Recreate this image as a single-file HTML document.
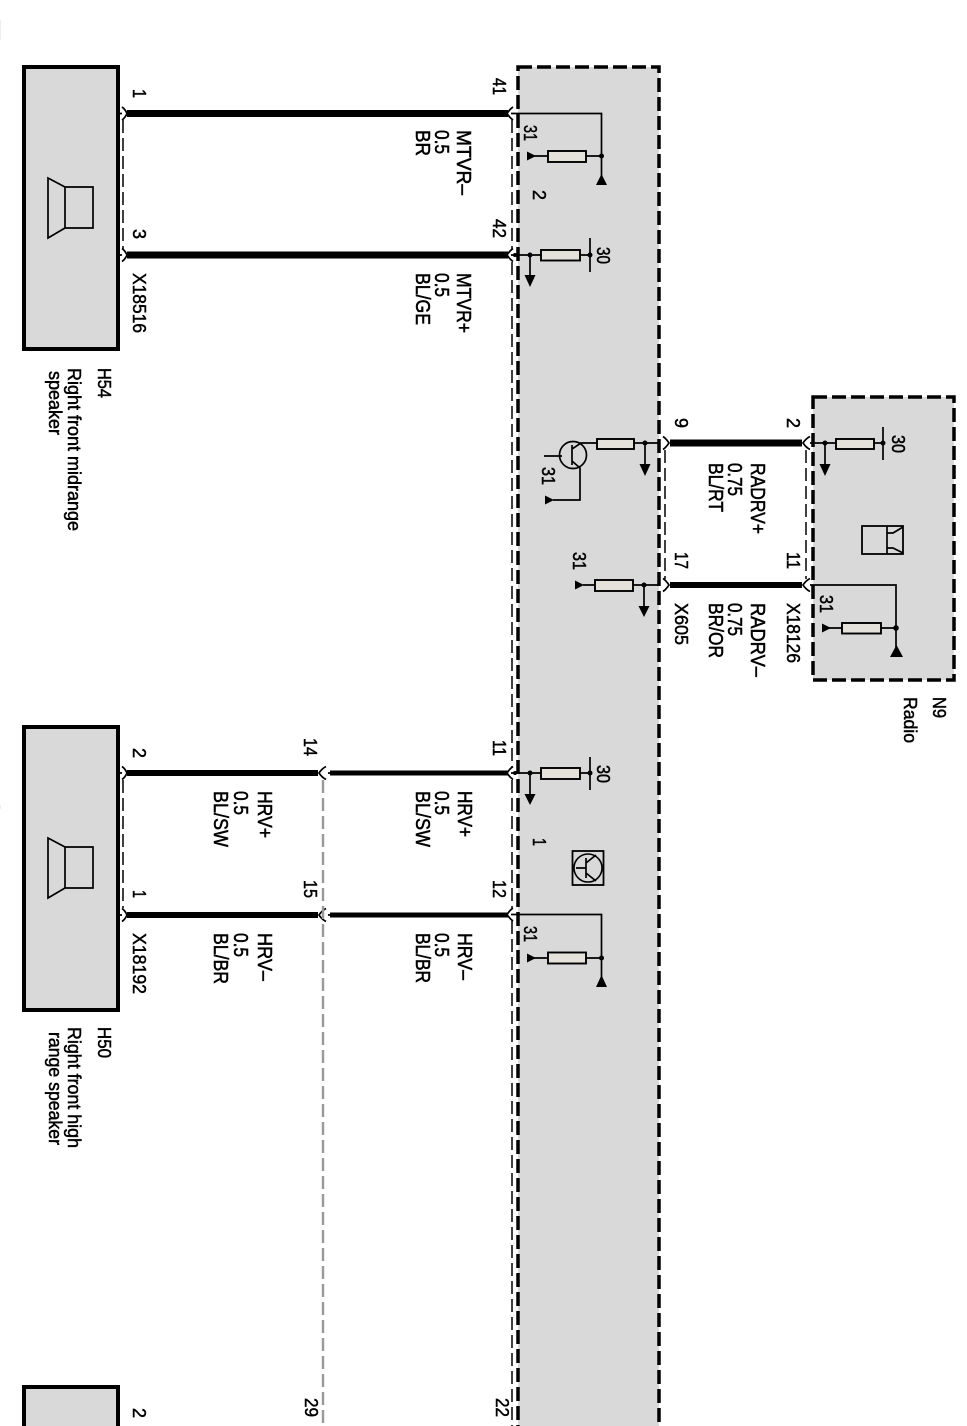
<!DOCTYPE html>
<html><head><meta charset="utf-8"><style>
html,body{margin:0;padding:0;background:#fff;width:967px;height:1426px;overflow:hidden}
svg{display:block;position:absolute;left:0;top:0;filter:blur(.35px)}
text{font-family:"Liberation Sans",sans-serif;font-size:17px;fill:#000;stroke:#000;stroke-width:.45}
.t{fill:none;stroke:#000;stroke-width:1.7}
.w{fill:none;stroke:#000}
.d{fill:none;stroke:#000;stroke-width:1.5;stroke-dasharray:13 5}
.r{fill:#e4e2da;stroke:#000;stroke-width:1.9}
.k{fill:#000;stroke:none}
</style></head><body>
<svg width="967" height="1426" viewBox="0 0 967 1426" xmlns="http://www.w3.org/2000/svg">
<rect x="24" y="67" width="94" height="282" fill="#d9d9d9" stroke="#000" stroke-width="4"/>
<rect x="24" y="727" width="94" height="283" fill="#d9d9d9" stroke="#000" stroke-width="4"/>
<rect x="24" y="1387" width="94" height="60" fill="#d9d9d9" stroke="#000" stroke-width="4"/>
<rect x="518" y="67" width="141" height="1400" fill="#d9d9d9" stroke="#000" stroke-width="3.5" stroke-dasharray="14 5"/>
<rect x="813" y="397" width="141" height="283" fill="#d9d9d9" stroke="#000" stroke-width="3.5" stroke-dasharray="14 5"/>

<!-- speakers -->
<path class="t" d="M48,178 L65,187 V228 L48,238 Z M65,187 H93 V228 H65"/>
<path class="t" d="M48,838 L65,847 V888 L48,898 Z M65,847 H93 V888 H65"/>

<!-- main wires -->
<g class="w">
<path stroke-width="7" d="M127,113.5 H508 M127,255 H508 M670,443 H802"/>
<path stroke-width="6" d="M670,585 H802 M127,773 H318 M127,915 H318"/>
<path stroke-width="5" d="M330,773 H508 M330,915 H508"/>
</g>

<!-- brackets -->
<path class="t" d="M119,113.5 H122 M122,107 Q125,109 127,113.5 Q125,118 122,120 M119,255 H122 M122,248.5 Q125,250.5 127,255 Q125,259.5 122,261.5 M119,773 H122 M122,766.5 Q125,768.5 127,773 Q125,777.5 122,779.5 M119,915 H122 M122,908.5 Q125,910.5 127,915 Q125,919.500 122,921.5"/>
<path class="t" d="M513,107 Q510,109 507,113.5 Q510,118 513,120 M513,248.5 Q510,250.5 507,255 Q510,259.500 513,261.5 M513,766.5 Q510,768.5 507,773 Q510,777.5 513,779.500 M513,908 Q510,910 507,914.5 Q510,919 513,921"/>
<path class="t" d="M663,436.5 Q666,438.500 669,443 Q666,447.500 663,449.5 M663,578.5 Q666,580.500 669,585 Q666,589.500 663,591.5"/>
<path class="t" d="M810,436.5 Q806,438.500 803,443 Q806,447.500 810,449.5 M810,578.5 Q806,580.500 803,585 Q806,589.500 810,591.5"/>
<path class="t" d="M326,766.5 Q322,768.500 319,773 Q322,777.500 326,779.5 M326,908.5 Q322,910.500 319,915 Q322,919.500 326,921.5"/>
<path class="t" d="M328,773 H332 M328,915 H332"/>

<!-- dashed shields -->
<path class="d" d="M123,120 V249 M123,780 V908"/>
<path class="d" d="M512,120 V249 M512,262 V767 M512,780 V908 M512,921 V1426"/>
<path class="d" d="M665,450 V579 M806,450 V579"/>
<path d="M323,780 V1426" fill="none" stroke="#999" stroke-width="2.4" stroke-dasharray="13 5"/>

<!-- 41 -->
<path class="t" d="M511,113.5 H601.5 V178 M601.5,156 H586 M548,156 H533"/>
<rect class="r" x="548" y="151" width="38" height="11"/>
<circle class="k" cx="601.5" cy="156" r="2.5"/>
<path class="k" d="M601.5,174 L607,185 H596 Z M536,156 L527,151.500 V160.500 Z"/>
<!-- 42 -->
<path class="t" d="M511,255 H541 M580,255 H590 M590,238 V272 M530,255 V280"/>
<rect class="r" x="541" y="250" width="39" height="10.5"/>
<circle class="k" cx="530" cy="255" r="2.5"/><circle class="k" cx="590" cy="255" r="2.5"/><circle class="k" cx="515" cy="255" r="2"/>
<path class="k" d="M530,287 L524.5,275 H535.5 Z"/>
<!-- 11 -->
<path class="t" d="M511,773 H541 M580,773 H590 M590,757 V790 M530,773 V798"/>
<rect class="r" x="541" y="768" width="39" height="11"/>
<circle class="k" cx="530" cy="773" r="2.5"/><circle class="k" cx="590" cy="773" r="2.5"/><circle class="k" cx="515" cy="773" r="2"/>
<path class="k" d="M530,805 L524.5,794 H535.5 Z"/>
<!-- transistor icon -->
<rect x="572.5" y="851" width="31" height="34" fill="none" stroke="#000" stroke-width="1.8"/>
<circle cx="588" cy="868" r="14" fill="none" stroke="#000" stroke-width="1.6"/>
<path class="t" d="M576,868 H586 M586,858 V878 M586,863 L596,855 M586,873 L596,881"/>
<!-- 12 -->
<path class="t" d="M511,914.5 H601.5 V980 M601.5,958 H586 M548,958 H533"/>
<rect class="r" x="548" y="952.5" width="38" height="11"/>
<circle class="k" cx="601.5" cy="958" r="2.5"/>
<path class="k" d="M601.5,975 L607,987 H596 Z M536,958 L527,953.500 V962.500 Z"/>

<!-- transistor at 9 -->
<path class="t" d="M659,443 H634 M597,443 H580 M645,443 V468 M544,456 H562 M572,445 V465 M572,449 L581,443 M572,461 L580,468 V500 H553"/>
<circle cx="573" cy="455" r="13.5" fill="none" stroke="#000" stroke-width="1.7"/>
<rect class="r" x="597" y="439" width="37" height="10"/>
<circle class="k" cx="645" cy="443" r="2.5"/>
<path class="k" d="M645,476 L639.5,464 H650.5 Z M554,500 L545,495.500 V504.500 Z"/>
<!-- 17 -->
<path class="t" d="M659,585 H633 M595,585 H583 M644,585 V610"/>
<rect class="r" x="595" y="580" width="38" height="11"/>
<circle class="k" cx="644" cy="585" r="2.5"/>
<path class="k" d="M644,617 L638.5,606 H649.5 Z M584,585 L575,580.500 V589.500 Z"/>

<!-- radio internals -->
<path class="t" d="M810,443 H836 M874,443 H883 M883,427 V460 M825,443 V468"/>
<rect class="r" x="836" y="439" width="38" height="10"/>
<circle class="k" cx="825" cy="443" r="2.5"/><circle class="k" cx="883" cy="443" r="2.5"/>
<path class="k" d="M825,476 L819.5,464 H830.5 Z"/>
<rect x="862" y="526" width="41" height="28" fill="none" stroke="#000" stroke-width="1.8"/>
<path class="t" d="M887,526 V554 M887,533 H893 L903,527 M887,548 H893 L903,553"/>
<path class="t" d="M810,585 H896 V650 M896,628 H881 M842,628 H829"/>
<rect class="r" x="842" y="623" width="39" height="10.5"/>
<circle class="k" cx="896" cy="628" r="2.8"/>
<path class="k" d="M896.5,645 L903,657 H890 Z M831,628 L822,623.500 V632.500 Z"/>

<!-- left-edge ticks -->
<path d="M0,805 V809 M0,20 V40" stroke="#ddd" stroke-width="1"/>

<!-- labels -->
<g>
<text lengthAdjust="spacingAndGlyphs" transform="translate(133,89) rotate(90) scale(1,1.1)" textLength="9">1</text>
<text lengthAdjust="spacingAndGlyphs" transform="translate(133,229) rotate(90) scale(1,1.1)" textLength="10">3</text>
<text lengthAdjust="spacingAndGlyphs" transform="translate(133,273) rotate(90) scale(1,1.1)" textLength="60">X18516</text>
<text lengthAdjust="spacingAndGlyphs" transform="translate(98,368) rotate(90) scale(1,1.1)" textLength="30">H54</text>
<text lengthAdjust="spacingAndGlyphs" transform="translate(68,368) rotate(90) scale(1,1.1)" textLength="163">Right front midrange</text>
<text lengthAdjust="spacingAndGlyphs" transform="translate(49,371) rotate(90) scale(1,1.1)" textLength="64">speaker</text>

<text lengthAdjust="spacingAndGlyphs" transform="translate(493,78) rotate(90) scale(1,1.1)" textLength="17">41</text>
<text lengthAdjust="spacingAndGlyphs" transform="translate(493,219) rotate(90) scale(1,1.1)" textLength="19">42</text>
<text lengthAdjust="spacingAndGlyphs" transform="translate(457,130) rotate(90) scale(1,1.18)" textLength="65">MTVR–</text>
<text lengthAdjust="spacingAndGlyphs" transform="translate(435,130) rotate(90) scale(1,1.18)" textLength="24">0.5</text>
<text lengthAdjust="spacingAndGlyphs" transform="translate(416,130) rotate(90) scale(1,1.18)" textLength="26">BR</text>
<text lengthAdjust="spacingAndGlyphs" transform="translate(457,273) rotate(90) scale(1,1.18)" textLength="60">MTVR+</text>
<text lengthAdjust="spacingAndGlyphs" transform="translate(435,273) rotate(90) scale(1,1.18)" textLength="24">0.5</text>
<text lengthAdjust="spacingAndGlyphs" transform="translate(416,273) rotate(90) scale(1,1.18)" textLength="52">BL/GE</text>
<text lengthAdjust="spacingAndGlyphs" transform="translate(524,125) rotate(90) scale(1,1.1)" textLength="16">31</text>
<text lengthAdjust="spacingAndGlyphs" transform="translate(533,190) rotate(90) scale(1,1.1)" textLength="10">2</text>
<text lengthAdjust="spacingAndGlyphs" transform="translate(597,247) rotate(90) scale(1,1.1)" textLength="17">30</text>

<text lengthAdjust="spacingAndGlyphs" transform="translate(675,418) rotate(90) scale(1,1.1)" textLength="10">9</text>
<text lengthAdjust="spacingAndGlyphs" transform="translate(787,418) rotate(90) scale(1,1.1)" textLength="10">2</text>
<text lengthAdjust="spacingAndGlyphs" transform="translate(675,552) rotate(90) scale(1,1.1)" textLength="17">17</text>
<text lengthAdjust="spacingAndGlyphs" transform="translate(787,552) rotate(90) scale(1,1.1)" textLength="17">11</text>
<text lengthAdjust="spacingAndGlyphs" transform="translate(751,463) rotate(90) scale(1,1.18)" textLength="71">RADRV+</text>
<text lengthAdjust="spacingAndGlyphs" transform="translate(728,463) rotate(90) scale(1,1.18)" textLength="33">0.75</text>
<text lengthAdjust="spacingAndGlyphs" transform="translate(709,463) rotate(90) scale(1,1.18)" textLength="49">BL/RT</text>
<text lengthAdjust="spacingAndGlyphs" transform="translate(751,603) rotate(90) scale(1,1.18)" textLength="74">RADRV–</text>
<text lengthAdjust="spacingAndGlyphs" transform="translate(728,603) rotate(90) scale(1,1.18)" textLength="33">0.75</text>
<text lengthAdjust="spacingAndGlyphs" transform="translate(709,603) rotate(90) scale(1,1.18)" textLength="55">BR/OR</text>
<text lengthAdjust="spacingAndGlyphs" transform="translate(675,603) rotate(90) scale(1,1.1)" textLength="42">X605</text>
<text lengthAdjust="spacingAndGlyphs" transform="translate(787,603) rotate(90) scale(1,1.1)" textLength="60">X18126</text>
<text lengthAdjust="spacingAndGlyphs" transform="translate(933,697) rotate(90) scale(1,1.1)" textLength="21">N9</text>
<text lengthAdjust="spacingAndGlyphs" transform="translate(904,697) rotate(90) scale(1,1.1)" textLength="46">Radio</text>
<text lengthAdjust="spacingAndGlyphs" transform="translate(892,435) rotate(90) scale(1,1.1)" textLength="18">30</text>
<text lengthAdjust="spacingAndGlyphs" transform="translate(820,595) rotate(90) scale(1,1.1)" textLength="18">31</text>
<text lengthAdjust="spacingAndGlyphs" transform="translate(542,467) rotate(90) scale(1,1.1)" textLength="18">31</text>
<text lengthAdjust="spacingAndGlyphs" transform="translate(573,552) rotate(90) scale(1,1.1)" textLength="18">31</text>

<text lengthAdjust="spacingAndGlyphs" transform="translate(493,740) rotate(90) scale(1,1.1)" textLength="16">11</text>
<text lengthAdjust="spacingAndGlyphs" transform="translate(493,880) rotate(90) scale(1,1.1)" textLength="18">12</text>
<text lengthAdjust="spacingAndGlyphs" transform="translate(458,791) rotate(90) scale(1,1.18)" textLength="46">HRV+</text>
<text lengthAdjust="spacingAndGlyphs" transform="translate(435,791) rotate(90) scale(1,1.18)" textLength="24">0.5</text>
<text lengthAdjust="spacingAndGlyphs" transform="translate(416,791) rotate(90) scale(1,1.18)" textLength="56">BL/SW</text>
<text lengthAdjust="spacingAndGlyphs" transform="translate(458,933) rotate(90) scale(1,1.18)" textLength="47">HRV–</text>
<text lengthAdjust="spacingAndGlyphs" transform="translate(435,933) rotate(90) scale(1,1.18)" textLength="24">0.5</text>
<text lengthAdjust="spacingAndGlyphs" transform="translate(416,933) rotate(90) scale(1,1.18)" textLength="50">BL/BR</text>
<text lengthAdjust="spacingAndGlyphs" transform="translate(597,765) rotate(90) scale(1,1.1)" textLength="18">30</text>
<text lengthAdjust="spacingAndGlyphs" transform="translate(533,838) rotate(90) scale(1,1.1)" textLength="8">1</text>
<text lengthAdjust="spacingAndGlyphs" transform="translate(524,926) rotate(90) scale(1,1.1)" textLength="16">31</text>

<text lengthAdjust="spacingAndGlyphs" transform="translate(133,748) rotate(90) scale(1,1.1)" textLength="10">2</text>
<text lengthAdjust="spacingAndGlyphs" transform="translate(133,890) rotate(90) scale(1,1.1)" textLength="8">1</text>
<text lengthAdjust="spacingAndGlyphs" transform="translate(133,933) rotate(90) scale(1,1.1)" textLength="61">X18192</text>
<text lengthAdjust="spacingAndGlyphs" transform="translate(304,738) rotate(90) scale(1,1.1)" textLength="18">14</text>
<text lengthAdjust="spacingAndGlyphs" transform="translate(304,880) rotate(90) scale(1,1.1)" textLength="18">15</text>
<text lengthAdjust="spacingAndGlyphs" transform="translate(258,791) rotate(90) scale(1,1.18)" textLength="47">HRV+</text>
<text lengthAdjust="spacingAndGlyphs" transform="translate(234,791) rotate(90) scale(1,1.18)" textLength="24">0.5</text>
<text lengthAdjust="spacingAndGlyphs" transform="translate(214,791) rotate(90) scale(1,1.18)" textLength="56">BL/SW</text>
<text lengthAdjust="spacingAndGlyphs" transform="translate(258,933) rotate(90) scale(1,1.18)" textLength="48">HRV–</text>
<text lengthAdjust="spacingAndGlyphs" transform="translate(234,933) rotate(90) scale(1,1.18)" textLength="24">0.5</text>
<text lengthAdjust="spacingAndGlyphs" transform="translate(214,933) rotate(90) scale(1,1.18)" textLength="51">BL/BR</text>
<text lengthAdjust="spacingAndGlyphs" transform="translate(98,1027) rotate(90) scale(1,1.1)" textLength="31">H50</text>
<text lengthAdjust="spacingAndGlyphs" transform="translate(68,1027) rotate(90) scale(1,1.1)" textLength="121">Right front high</text>
<text lengthAdjust="spacingAndGlyphs" transform="translate(49,1032) rotate(90) scale(1,1.1)" textLength="113">range speaker</text>

<text lengthAdjust="spacingAndGlyphs" transform="translate(133,1408) rotate(90) scale(1,1.1)" textLength="10">2</text>
<text lengthAdjust="spacingAndGlyphs" transform="translate(305,1398) rotate(90) scale(1,1.1)" textLength="19">29</text>
<text lengthAdjust="spacingAndGlyphs" transform="translate(496,1398) rotate(90) scale(1,1.1)" textLength="19">22</text>
</g>
</svg>
</body></html>
